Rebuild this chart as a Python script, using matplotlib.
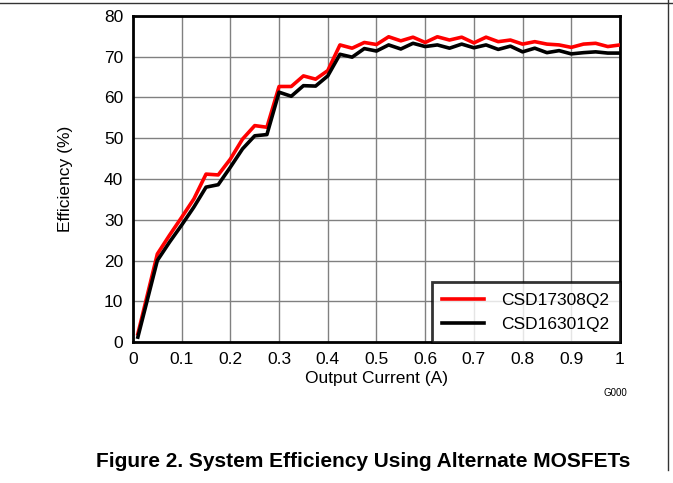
import matplotlib
matplotlib.use('Agg')
import matplotlib.pyplot as plt
from matplotlib.lines import Line2D

plt.rcParams['font.family'] = ['Liberation Sans', 'DejaVu Sans']

# output current (A)
corrente = [0.01, 0.05, 0.075, 0.1, 0.125, 0.15, 0.175, 0.2, 0.225, 0.25,
            0.275, 0.3, 0.325, 0.35, 0.375, 0.4, 0.425, 0.45, 0.475, 0.5,
            0.525, 0.55, 0.575, 0.6, 0.625, 0.65, 0.675, 0.7, 0.725, 0.75,
            0.775, 0.8, 0.825, 0.85, 0.875, 0.9, 0.925, 0.95, 0.975, 1.0]
# efficiency (%)
ef_17308 = [2.0, 21.6, 26.2, 30.6, 35.1, 41.2, 41.0, 44.9, 49.8, 53.1,
            52.7, 62.7, 62.7, 65.3, 64.5, 66.6, 72.9, 72.1, 73.5, 73.0,
            74.9, 73.9, 74.8, 73.5, 74.9, 74.1, 74.8, 73.4, 74.8, 73.7,
            74.1, 73.1, 73.7, 73.1, 72.9, 72.3, 73.1, 73.3, 72.5, 72.9]
ef_16301 = [1.2, 20.0, 24.5, 28.7, 33.1, 38.0, 38.6, 42.9, 47.4, 50.6,
            50.9, 61.3, 60.3, 62.9, 62.8, 65.3, 70.6, 69.9, 72.0, 71.4,
            72.9, 71.9, 73.3, 72.5, 72.9, 72.1, 73.1, 72.2, 72.9, 71.8,
            72.6, 71.2, 72.1, 71.0, 71.5, 70.7, 71.0, 71.2, 70.9, 70.9]
nomes = ['CSD17308Q2', 'CSD16301Q2']
xticks = [0, 0.1, 0.2, 0.3, 0.4, 0.5, 0.6, 0.7, 0.8, 0.9, 1]
yticks = [0, 10, 20, 30, 40, 50, 60, 70, 80]

fig = plt.figure(figsize=(6.73, 4.83), dpi=100)
ax = fig.add_axes([0.1976, 0.2919, 0.7236, 0.675])

ax.plot(corrente, ef_17308, color='#ff0000', lw=2.6, label=nomes[0], zorder=3)
ax.plot(corrente, ef_16301, color='black', lw=2.6, label=nomes[1], zorder=4)

ax.set_xlim(0, 1)
ax.set_ylim(0, 80)
ax.set_xticks(xticks)
ax.set_xticklabels(['0' if t == 0 else ('1' if t == 1 else str(t)) for t in xticks])
ax.set_yticks(yticks)
ax.tick_params(length=0, labelsize=12.5, pad=7)
ax.grid(True, color='#808080', lw=1)
for s in ax.spines.values():
    s.set_linewidth(2)
    s.set_color('black')

ax.set_xlabel('Output Current (A)', fontsize=12.5, labelpad=3)
ax.set_ylabel('Efficiency (%)', fontsize=12.5, labelpad=22)

leg = ax.legend(loc='lower right', fontsize=12.5, frameon=True, fancybox=False,
                borderaxespad=0, handlelength=2.4, borderpad=0.6,
                labelspacing=0.5, handletextpad=1.0)
leg.get_frame().set_edgecolor('black')
leg.get_frame().set_linewidth(2)
leg.set_zorder(5)

fig.text(0.915, 0.187, 'G000', fontsize=7, ha='center', va='center')
fig.text(0.54, 0.044, 'Figure 2. System Efficiency Using Alternate MOSFETs',
         fontsize=15, fontweight='bold', ha='center', va='center')

# page borders
fig.add_artist(Line2D([0, 1], [0.994, 0.994], color='#333333', lw=1))
fig.add_artist(Line2D([0.9925, 0.9925], [0.027, 1], color='#333333', lw=1))

fig.savefig('out.png', dpi=100)
